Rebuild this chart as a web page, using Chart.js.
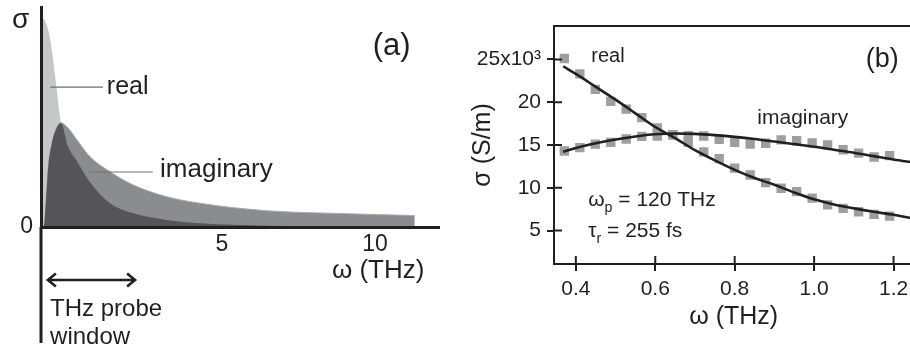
<!DOCTYPE html>
<html>
<head>
<meta charset="utf-8">
<script src="https://cdn.jsdelivr.net/npm/chart.js@4.4.1/dist/chart.umd.min.js"></script>
<style>
  html, body { margin: 0; padding: 0; background: #fff; }
  #wrap { position: relative; width: 910px; height: 350px; overflow: hidden; }
  #chartA { position: absolute; left: 0; top: 0; }
  #chartB { position: absolute; left: 450px; top: 0; }
</style>
</head>
<body>
<div id="wrap">
  <canvas id="chartA" width="450" height="350"></canvas>
  <canvas id="chartB" width="470" height="350"></canvas>
</div>
<script>
// (a) sketch of the Drude response, arbitrary units
const freqA = [0, 0.08, 0.14, 0.2, 0.3, 0.41, 0.55, 0.75, 0.99, 1.35, 1.91, 2.55, 3.47, 4.39, 6.24, 8.08, 10.33];
const realA = [95, 94.5, 92.5, 89.5, 80.5, 66, 47.3, 36.5, 30, 20.5, 10.8, 6.2, 3.2, 1.7, 0.6, 0.35, 0.25];
const imagA = [0, 0.5, 12.3, 27.4, 38, 44.2, 47.4, 45, 39.7, 32, 25.1, 19.1, 13.8, 10.8, 7.4, 6.2, 5.2];
const tickPosA = [5, 9.23];
const tickLabelsA = ['5', '10'];

// (b) measured conductivity (x10^3 S/m) and Drude fit
const freqB = [0.371, 0.410, 0.449, 0.488, 0.527, 0.566, 0.605, 0.644, 0.683, 0.722, 0.761,
               0.800, 0.839, 0.878, 0.917, 0.956, 0.995, 1.034, 1.073, 1.112, 1.151, 1.190];
const realB = [25.1, 23.3, 21.5, 20.1, 19.2, 18.2, 17.0, 16.2, 15.3, 14.2, 13.4,
               12.3, 11.5, 10.6, 9.95, 9.55, 8.8, 8.0, 7.6, 7.2, 6.9, 6.7];
const imagB = [14.3, 14.7, 15.1, 15.3, 15.7, 16.0, 16.05, 16.2, 16.1, 16.05, 15.65,
               15.3, 15.1, 15.2, 15.6, 15.5, 15.25, 15.0, 14.45, 14.05, 13.6, 13.75];
const freqFit = [0.368, 0.40, 0.45, 0.50, 0.55, 0.60, 0.65, 0.70, 0.75, 0.80, 0.85, 0.90, 0.95, 1.00, 1.05, 1.10, 1.15, 1.20, 1.25];
const realFit = [24.2, 23.3, 21.8, 20.3, 18.7, 17.1, 15.8, 14.4, 13.2, 12.1, 11.15, 10.35, 9.45, 8.65, 8.05, 7.6, 7.2, 6.85, 6.4];
const imagFit = [14.2, 14.65, 15.2, 15.65, 16.0, 16.25, 16.35, 16.3, 16.15, 15.95, 15.7, 15.4, 15.1, 14.8, 14.45, 14.1, 13.7, 13.3, 12.95];
const xTicksB = [0.4, 0.6, 0.8, 1.0, 1.2];
const yTicksB = [5, 10, 15, 20, 25];

const FONT = '"Liberation Sans", Arial, sans-serif';
const INK = '#231f20';

const pts = (xs, ys) => xs.map((x, i) => ({ x: x, y: ys[i] }));

// text drawn in data coordinates, parts can be sub/superscripts
function drawNote(ctx, sx, sy, n) {
    let px = sx.getPixelForValue(n.x);
    const py = sy.getPixelForValue(n.y);
    ctx.fillStyle = INK;
    ctx.textAlign = 'left';
    ctx.textBaseline = 'alphabetic';
    for (const part of n.parts) {
        const size = part.sub ? n.size * 0.68 : n.size;
        ctx.font = size + 'px ' + FONT;
        ctx.fillText(part.t, px, py + (part.sub ? n.size * 0.3 : 0));
        px += ctx.measureText(part.t).width;
    }
}

const notesA = [
    { x: -0.80, y: 90.3, size: 28, parts: [{ t: 'σ' }] },
    { x: 9.17, y: 78.2, size: 31, parts: [{ t: '(a)' }] },
    { x: 1.82, y: 60.5, size: 25, parts: [{ t: 'real' }] },
    { x: 3.29, y: 22.9, size: 26, parts: [{ t: 'imaginary' }] },
    { x: 8.04, y: -23.3, size: 26, parts: [{ t: 'ω (THz)' }] },
    { x: 0.25, y: -40.3, size: 24, parts: [{ t: 'THz probe' }] },
    { x: 0.25, y: -53.3, size: 24, parts: [{ t: 'window' }] }
];
const leadersA = [
    { x0: 0.25, x1: 1.71, y: 63.6 },
    { x0: 1.33, x1: 3.09, y: 25 }
];
const probeA = { x0: 0.19, x1: 2.6, y: -24.1 };
const axisEndA = -52.7;

const notesB = [
    { x: 0.439, y: 24.65, size: 20, parts: [{ t: 'real' }] },
    { x: 1.130, y: 24.14, size: 27, parts: [{ t: '(b)' }] },
    { x: 0.857, y: 17.45, size: 21, parts: [{ t: 'imaginary' }] },
    { x: 0.431, y: 7.88, size: 21, parts: [{ t: 'ω' }, { t: 'p', sub: true }, { t: ' = 120 THz' }] },
    { x: 0.431, y: 4.30, size: 21, parts: [{ t: 'τ' }, { t: 'r', sub: true }, { t: ' = 255 fs' }] }
];

const sketchPlugin = {
    id: 'sketchNotes',
    afterDraw(chart) {
        const { ctx, chartArea, scales: { x, y } } = chart;
        ctx.save();
        // axis runs on below the frequency axis
        ctx.strokeStyle = INK;
        ctx.lineWidth = 3;
        ctx.beginPath();
        ctx.moveTo(chartArea.left, chartArea.bottom);
        ctx.lineTo(chartArea.left, y.getPixelForValue(axisEndA));
        ctx.stroke();

        ctx.strokeStyle = '#707173';
        ctx.lineWidth = 1.2;
        leadersA.forEach(l => {
            ctx.beginPath();
            ctx.moveTo(x.getPixelForValue(l.x0), y.getPixelForValue(l.y));
            ctx.lineTo(x.getPixelForValue(l.x1), y.getPixelForValue(l.y));
            ctx.stroke();
        });

        // double arrow for the probe window
        const ax0 = x.getPixelForValue(probeA.x0), ax1 = x.getPixelForValue(probeA.x1);
        const ay = y.getPixelForValue(probeA.y);
        ctx.strokeStyle = INK;
        ctx.lineWidth = 2.6;
        ctx.beginPath();
        ctx.moveTo(ax0 + 1, ay); ctx.lineTo(ax1 - 1, ay);
        ctx.moveTo(ax0 + 8, ay - 6.5); ctx.lineTo(ax0, ay); ctx.lineTo(ax0 + 8, ay + 6.5);
        ctx.moveTo(ax1 - 8, ay - 6.5); ctx.lineTo(ax1, ay); ctx.lineTo(ax1 - 8, ay + 6.5);
        ctx.stroke();

        notesA.forEach(n => drawNote(ctx, x, y, n));
        ctx.restore();
    }
};

const framePlugin = {
    id: 'frameTicks',
    afterDraw(chart) {
        const { ctx, chartArea, scales: { x, y } } = chart;
        ctx.save();
        ctx.strokeStyle = INK;
        ctx.lineWidth = 2;
        ctx.beginPath();
        ctx.moveTo(chartArea.left - 1, chartArea.top);
        ctx.lineTo(chartArea.right, chartArea.top);
        // inner half of the crossing tick marks
        xTicksB.forEach(v => {
            const px = x.getPixelForValue(v);
            ctx.moveTo(px, chartArea.bottom);
            ctx.lineTo(px, chartArea.bottom - 8);
        });
        yTicksB.forEach(v => {
            const py = y.getPixelForValue(v);
            ctx.moveTo(chartArea.left, py);
            ctx.lineTo(chartArea.left + 8, py);
        });
        ctx.stroke();
        notesB.forEach(n => drawNote(ctx, x, y, n));
        ctx.restore();
    }
};

new Chart(document.getElementById('chartA'), {
    type: 'line',
    data: {
        datasets: [
            {
                label: 'overlap',
                data: pts(freqA, realA.map((r, i) => Math.min(r, imagA[i]))),
                backgroundColor: '#555558',
                borderColor: 'transparent',
                borderWidth: 0,
                pointRadius: 0,
                fill: 'origin',
                cubicInterpolationMode: 'monotone'
            },
            {
                label: 'imaginary',
                data: pts(freqA, imagA),
                backgroundColor: '#8b8c8f',
                borderColor: '#a7a8aa',
                borderWidth: 1,
                pointRadius: 0,
                fill: 'origin',
                cubicInterpolationMode: 'monotone'
            },
            {
                label: 'real',
                data: pts(freqA, realA),
                backgroundColor: '#c6c7c9',
                borderColor: 'transparent',
                borderWidth: 0,
                pointRadius: 0,
                fill: 'origin',
                cubicInterpolationMode: 'monotone'
            }
        ]
    },
    options: {
        responsive: false,
        animation: false,
        events: [],
        layout: { padding: { top: 7, right: 11, left: 0, bottom: 0 } },
        plugins: { legend: { display: false }, tooltip: { enabled: false } },
        scales: {
            x: {
                type: 'linear', min: 0, max: 11,
                afterBuildTicks: s => { s.ticks = tickPosA.map(v => ({ value: v })); },
                afterFit: s => { s.height = 123; s.paddingLeft = 0; s.paddingRight = 0; },
                ticks: { callback: (v, i) => tickLabelsA[i], font: { family: FONT, size: 23 }, color: INK, padding: 4, maxRotation: 0, autoSkip: false },
                grid: { display: false, drawTicks: false },
                border: { display: true, color: INK, width: 3, z: 1 }
            },
            y: {
                type: 'linear', min: 0, max: 100,
                afterBuildTicks: s => { s.ticks = [{ value: 0 }]; },
                afterFit: s => { s.width = 41; s.paddingTop = 0; s.paddingBottom = 0; },
                ticks: { callback: () => '0', font: { family: FONT, size: 23 }, color: INK, padding: 8 },
                grid: { display: false, drawTicks: false },
                border: { display: true, color: INK, width: 3, z: 1 }
            }
        }
    },
    plugins: [sketchPlugin]
});

new Chart(document.getElementById('chartB'), {
    type: 'line',
    data: {
        datasets: [
            { label: 'real fit', data: pts(freqFit, realFit), borderColor: INK, borderWidth: 2.6, pointRadius: 0, fill: false, cubicInterpolationMode: 'monotone' },
            { label: 'imaginary fit', data: pts(freqFit, imagFit), borderColor: INK, borderWidth: 2.6, pointRadius: 0, fill: false, cubicInterpolationMode: 'monotone' },
            { label: 'real', data: pts(freqB, realB), showLine: false, pointStyle: 'rect', pointRadius: 6.6, pointBackgroundColor: '#9d9ea0', pointBorderWidth: 0 },
            { label: 'imaginary', data: pts(freqB, imagB), showLine: false, pointStyle: 'rect', pointRadius: 6.6, pointBackgroundColor: '#9d9ea0', pointBorderWidth: 0 }
        ]
    },
    options: {
        responsive: false,
        animation: false,
        events: [],
        layout: { padding: { top: 26, right: 2, left: 0, bottom: 0 } },
        plugins: { legend: { display: false }, tooltip: { enabled: false } },
        scales: {
            x: {
                type: 'linear', min: 0.345, max: 1.25,
                afterBuildTicks: s => { s.ticks = xTicksB.map(v => ({ value: v })); },
                afterFit: s => { s.height = 86; },
                ticks: { callback: v => v.toFixed(1), font: { family: FONT, size: 21 }, color: INK, padding: 6, maxRotation: 0, autoSkip: false },
                grid: { drawOnChartArea: false, drawTicks: true, tickLength: 7, color: INK, lineWidth: 2 },
                border: { display: true, color: INK, width: 2, z: 1 },
                title: { display: true, text: 'ω (THz)', font: { family: FONT, size: 25 }, color: INK, padding: { top: 0, bottom: 18 } }
            },
            y: {
                type: 'linear', min: 1.1, max: 28.9,
                afterBuildTicks: s => { s.ticks = yTicksB.map(v => ({ value: v })); },
                afterFit: s => { s.width = 104; },
                ticks: { callback: v => (v === 25 ? '25x10³' : String(v)), font: { family: FONT, size: 21 }, color: INK, padding: 6 },
                grid: { drawOnChartArea: false, drawTicks: true, tickLength: 7, color: INK, lineWidth: 2 },
                border: { display: true, color: INK, width: 2, z: 1 },
                title: { display: true, text: 'σ (S/m)', font: { family: FONT, size: 25 }, color: INK, padding: { top: 18, bottom: 0 } }
            }
        }
    },
    plugins: [framePlugin]
});
</script>
</body>
</html>
